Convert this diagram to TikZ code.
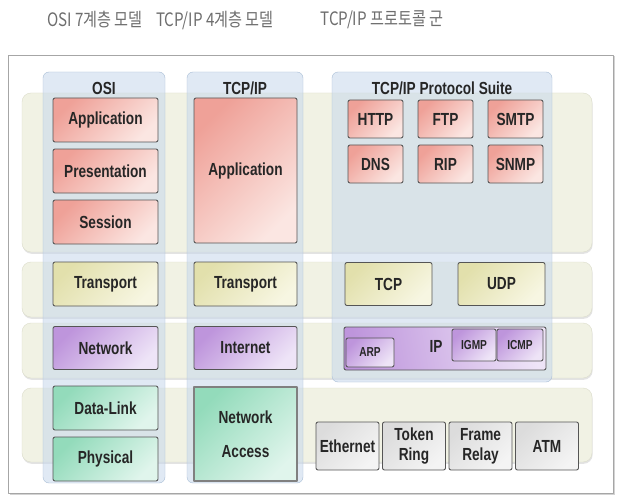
\documentclass[tikz,border=0pt]{standalone}
\usepackage{fontspec}
\setmainfont{Liberation Sans}[FakeStretch=0.78]
\newfontfamily\titlefont{Noto Sans CJK KR}[FakeStretch=0.82]
\usetikzlibrary{shadows}

\definecolor{ink}{HTML}{262626}
\definecolor{titlegray}{HTML}{6E6E6E}
\definecolor{framegray}{HTML}{A6A6A6}
\definecolor{bandfill}{HTML}{F1F2E4}
\definecolor{bandline}{HTML}{DCDDCB}
\definecolor{colfill}{HTML}{C7D8EC}
\definecolor{colline}{HTML}{A9BED6}
\definecolor{boxline}{HTML}{555555}
\definecolor{pinkA}{HTML}{EFA198}
\definecolor{pinkB}{HTML}{FBE6E2}
\definecolor{yellowA}{HTML}{E2E0AC}
\definecolor{yellowB}{HTML}{F7F6E2}
\definecolor{purpleA}{HTML}{BE95DC}
\definecolor{purpleB}{HTML}{EEE4F7}
\definecolor{greenA}{HTML}{93DBBB}
\definecolor{greenB}{HTML}{E0F5EC}
\definecolor{greyA}{HTML}{DCDCDC}
\definecolor{greyB}{HTML}{F4F4F4}

\begin{document}
\begin{tikzpicture}[x=1pt, y=-1pt, every node/.style={font=\bfseries\fontsize{17.5}{20}\selectfont, text=ink}, line join=round]
  \tikzset{band/.style={fill=bandfill, draw=bandline, rounded corners=9pt, drop shadow={shadow xshift=.6pt, shadow yshift=-1.8pt, opacity=.22}},
    column/.style={fill=colfill, fill opacity=.55, draw=colline, rounded corners=6pt},
    heading/.style={font=\titlefont\fontsize{18.5}{22}\selectfont, text=titlegray},
    layer/.style={draw=boxline, line width=.9pt, rounded corners=2pt, inner sep=0pt, align=center},
    pink/.style={layer, top color=pinkA, bottom color=pinkB, shading angle=45},
    yellow/.style={layer, top color=yellowA, bottom color=yellowB, shading angle=45},
    purple/.style={layer, top color=purpleA, bottom color=purpleB, shading angle=45},
    green/.style={layer, top color=greenA, bottom color=greenB, shading angle=45},
    grey/.style={layer, top color=greyA, bottom color=greyB, shading angle=45},
    small/.style={font=\bfseries\fontsize{13}{15}\selectfont}}
  \useasboundingbox (0,0) rectangle (622,503);

  % headings above the frame
  \node[heading] (osititle) at (95,20) {OSI 7계층 모델};
  \node[heading] (tcptitle) at (215,20) {TCP/IP 4계층 모델};
  \node[heading] (suitetitle) at (382,20) {TCP/IP 프로토콜 군};

  % frame, four layer bands and three see-through columns
  \draw[fill=white, draw=framegray, drop shadow={shadow xshift=1.5pt, shadow yshift=-1.5pt, opacity=.35}] (8,55) rectangle (613,493);
  \foreach \top/\bot in {93/252,262/317,323/378,388/462} {
    \draw[band] (22,\top) rectangle (592,\bot);
  }
  \draw[column] (43,72) rectangle (165,483);
  \draw[column] (187,72) rectangle (303,483);
  \draw[column] (332,72) rectangle (552,382);
  \node (osi) at (104,88) {OSI};
  \node (tcpip) at (245,88) {TCP/IP};
  \node (suite) at (442,88) {TCP/IP Protocol Suite};

  % OSI: seven layers
  \node[pink, minimum width=105pt, minimum height=44pt] (oapp) at (105.5,120) {Application};
  \node[pink, minimum width=105pt, minimum height=44pt] (opres) at (105.5,171) {Presentation};
  \node[pink, minimum width=105pt, minimum height=44pt] (osess) at (105.5,222) {Session};
  \node[yellow, minimum width=105pt, minimum height=44pt] (otrans) at (105.5,284) {Transport};
  \node[purple, minimum width=105pt, minimum height=43pt] (onet) at (105.5,348) {Network};
  \node[green, minimum width=105pt, minimum height=44pt] (olink) at (105.5,408) {Data-Link};
  \node[green, minimum width=105pt, minimum height=44pt] (ophys) at (105.5,459) {Physical};

  % TCP/IP: four layers
  \node[pink, minimum width=103pt, minimum height=145pt] (tapp) at (245.5,170.5) {Application};
  \node[yellow, minimum width=103pt, minimum height=44pt] (ttrans) at (245.5,284) {Transport};
  \node[purple, minimum width=103pt, minimum height=43pt] (tnet) at (245.5,348) {Internet};
  \node[green, draw=gray, line width=1.6pt, rounded corners=0pt, minimum width=103pt, minimum height=94pt] (taccess) at (245.5,434) {Network\\[14pt]Access};

  % protocol suite
  \foreach \name/\x/\y in {HTTP/375.5/119,FTP/445.5/119,SMTP/515.5/119,DNS/375.5/164,RIP/445.5/164,SNMP/515.5/164} {
    \node[pink, minimum width=55pt, minimum height=38pt] (\name) at (\x,\y) {\name};
  }
  \node[yellow, minimum width=87pt, minimum height=43pt] (TCP) at (388.5,284) {TCP};
  \node[yellow, minimum width=87pt, minimum height=43pt] (UDP) at (501.5,284) {UDP};
  \node[purple, shading angle=100, minimum width=202pt, minimum height=43pt] (IP) at (445,348.5) {};
  \node (iplabel) at (436,346) {IP};
  \node[purple, small, minimum width=48pt, minimum height=29pt] (ARP) at (370,352.5) {ARP};
  \node[purple, small, minimum width=44pt, minimum height=32pt] (IGMP) at (474,345) {IGMP};
  \node[purple, small, minimum width=46pt, minimum height=32pt] (ICMP) at (520,345) {ICMP};
  \foreach \name/\txt/\x in {ether/Ethernet/347.5,token/Token\\Ring/414,frame/Frame\\Relay/480.5,atm/ATM/547} {
    \node[grey, minimum width=63pt, minimum height=48pt] (\name) at (\x,446) {\txt};
  }
\end{tikzpicture}
\end{document}
